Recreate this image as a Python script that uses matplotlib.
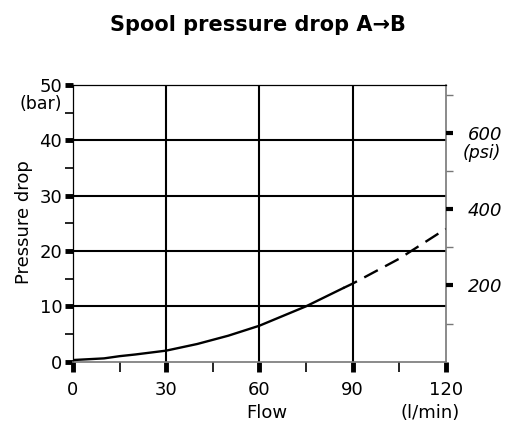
import matplotlib.pyplot as plt
from matplotlib.ticker import MultipleLocator

plt.rcParams['font.family'] = ['DejaVu Sans']

# flow (l/min) vs pressure drop (bar), measured part solid, extrapolated part dashed
flow_solid = [0, 10, 15, 20, 30, 40, 50, 60, 75, 87]
dp_solid = [0.3, 0.6, 1.0, 1.3, 2.0, 3.2, 4.7, 6.5, 10.0, 13.3]
flow_dash = [87, 90, 105, 120]
dp_dash = [13.3, 14.1, 18.6, 24.0]

x_major = [0, 30, 60, 90, 120]
y_major = [0, 10, 20, 30, 40, 50]
psi_major = [200, 400, 600]
psi_minor = [100, 300, 500, 700]
BAR_TO_PSI = 14.5038

W, H = 517, 423


def px(x, y):
    # pixel position (from top-left) -> figure fraction
    return x / W, 1 - y / H


fig = plt.figure(figsize=(W / 100, H / 100), dpi=100)
l, b = px(73, 361.7)
r, t = px(445.7, 85)
ax = fig.add_axes([l, b, r - l, t - b])

ax.set_xlim(0, 120)
ax.set_ylim(0, 50)

# grid
for y in [10, 20, 30, 40]:
    ax.axhline(y, color='black', lw=1.5, zorder=1)
for x in [30, 60, 90]:
    ax.axvline(x, color='black', lw=1.5, zorder=1)

ax.plot(flow_solid, dp_solid, color='black', lw=1.7, zorder=3)
ax.plot(flow_dash, dp_dash, color='black', lw=1.7, zorder=3,
        dashes=(6.5, 3.5))

for side in ['left', 'top']:
    ax.spines[side].set_color('black')
    ax.spines[side].set_linewidth(0.9)
for side in ['bottom', 'right']:
    ax.spines[side].set_color('#777777')
    ax.spines[side].set_linewidth(1.2)

ax.set_xticks(x_major)
ax.set_yticks(y_major)
ax.xaxis.set_minor_locator(MultipleLocator(15))
ax.yaxis.set_minor_locator(MultipleLocator(5))
ax.tick_params(which='major', width=3.5, color='black',
               labelsize=13, direction='out')
ax.tick_params(axis='x', which='both', length=7.2)
ax.tick_params(axis='x', which='major', pad=7)
ax.tick_params(axis='y', which='both', length=5.8)
ax.tick_params(axis='y', which='major', pad=2)
ax.tick_params(which='minor', width=1.2, color='black', direction='out')

# secondary psi axis
ax2 = ax.twinx()
ax2.set_ylim(0, 50 * BAR_TO_PSI)
ax2.set_yticks(psi_major)
ax2.set_yticks(psi_minor, minor=True)
ax2.set_yticklabels([str(v) for v in psi_major], fontstyle='italic',
                    fontsize=13)
ax2.tick_params(which='major', length=5, width=3.0, color='black', pad=11)
ax2.tick_params(which='minor', length=5, width=1.0, color='#777777')
for s in ax2.spines.values():
    s.set_visible(False)

fig.text(*px(258, 31), 'Spool pressure drop A\u2192B', ha='center',
         va='baseline', fontsize=15, fontweight='bold')
fig.text(*px(62, 104), '(bar)', ha='right', va='center', fontsize=12.5)
fig.text(*px(24, 222), 'Pressure drop', rotation=90, ha='center',
         va='center', fontsize=13)
fig.text(*px(267, 413), 'Flow', ha='center', va='center', fontsize=13)
fig.text(*px(430, 413), '(l/min)', ha='center', va='center', fontsize=13)
fig.text(*px(463, 153), '(psi)', ha='left', va='center', fontsize=12.5,
         fontstyle='italic')

fig.savefig('out.png', dpi=100)
